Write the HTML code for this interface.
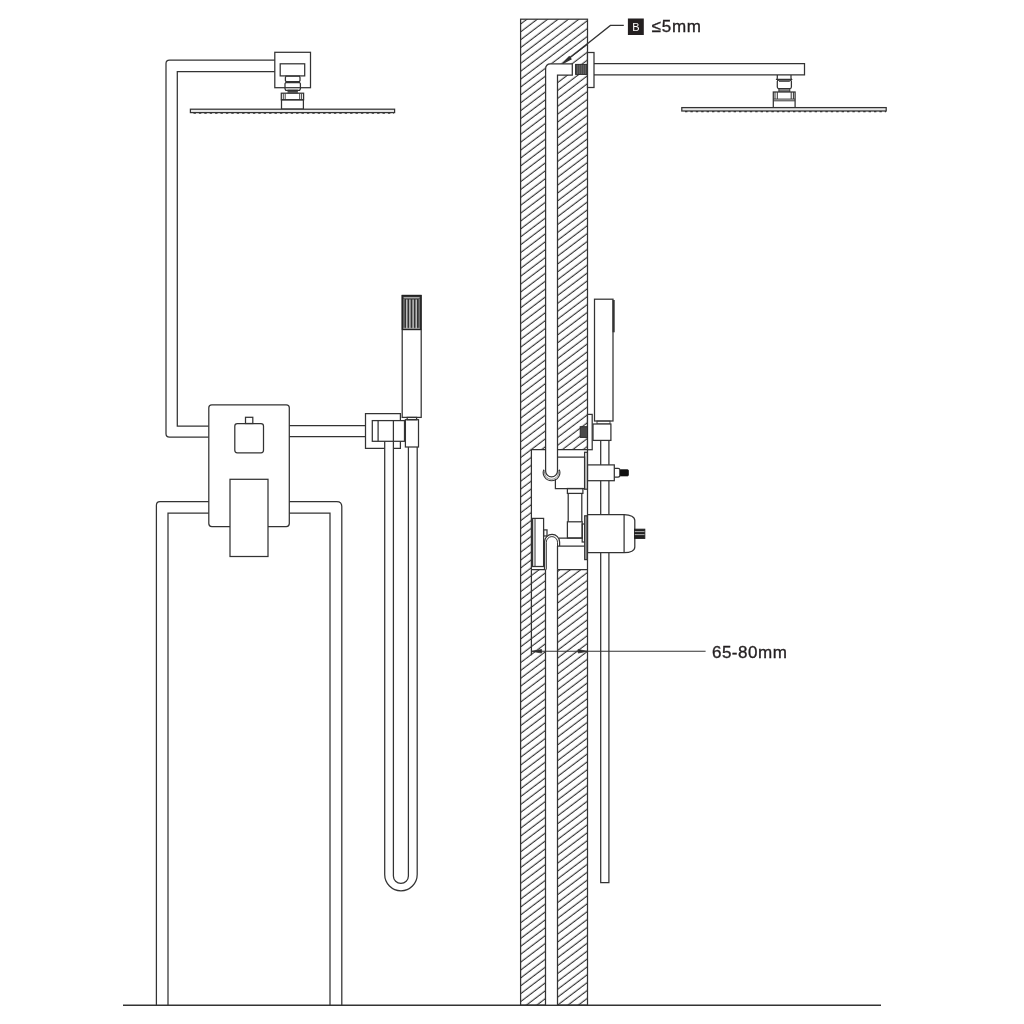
<!DOCTYPE html>
<html><head><meta charset="utf-8">
<style>
html,body{margin:0;padding:0;background:#fff;}
svg{display:block;will-change:transform;}
text{font-family:"Liberation Sans",sans-serif;}
</style></head>
<body>
<svg width="1024" height="1024" viewBox="0 0 1024 1024">
<defs>
<pattern id="hatch" patternUnits="userSpaceOnUse" width="20" height="6.28" patternTransform="translate(0,-2.47) rotate(-37.2)">
<line x1="-5" y1="3" x2="25" y2="3" stroke="#2b2b2b" stroke-width="1.1"/>
</pattern>
</defs>
<rect width="1024" height="1024" fill="#fff"/>
<g fill="none" stroke="#333" stroke-width="1.25" stroke-linejoin="miter">

<!-- ===== LEFT FIGURE ===== -->
<!-- upper pipe to ceiling head -->
<path d="M274.8 60 H169.5 Q166 60 166 63.5 V433.8 Q166 437.2 169.5 437.2 H208.8"/>
<path d="M274.8 71.5 H177.3 V426 H208.8"/>
<!-- ceiling connector -->
<rect x="274.8" y="52.3" width="35.7" height="35.4"/>
<rect x="280.2" y="63.8" width="24.5" height="12.1"/>
<path d="M286 76 h13.4 l0.6 1.5 v3 l-0.6 1 h-13.4 l-0.6 -1 v-3 z"/>
<path d="M285.8 82.5 h13.8 l0.8 1.2 v5.2 l-0.8 1.4 h-13.8 l-0.8 -1.4 v-5.2 z"/>
<path d="M287.5 90.2 h10.4 M287.5 91.6 h10.4 M287.5 92.8 h10.4" stroke-width="1"/>
<rect x="281.3" y="93.2" width="22.3" height="6.6"/>
<path d="M283.3 93.5 v6 M285.2 93.5 v6 M299.7 93.5 v6 M301.6 93.5 v6" stroke-width="0.9"/>
<rect x="281.5" y="99.8" width="21.9" height="9.3"/>
<!-- plate -->
<rect x="190.4" y="109.2" width="204.2" height="3.4" fill="#e8e8e8"/>
<path d="M193.5 113.2 H394" stroke-dasharray="2.4 3" stroke-width="1.3"/>

<!-- mixer body -->
<rect x="208.8" y="404.8" width="80.5" height="121.8" rx="3" fill="#fff"/>
<rect x="234.8" y="423.5" width="28.7" height="29.3" rx="2.5"/>
<rect x="245.5" y="417.3" width="7.3" height="6.2"/>
<rect x="230" y="479.3" width="38" height="77.2" fill="#fff"/>
<!-- right pipe to holder -->
<path d="M289.3 425.5 H365.5 M289.3 436.5 H365.5"/>
<!-- lower loop -->
<path d="M208.8 501.6 H160 Q156.4 501.6 156.4 505.2 V1005"/>
<path d="M208.8 513 H168 V1005"/>
<path d="M289.3 501.6 H336.8 Q341.8 501.6 341.8 506.6 V1005"/>
<path d="M289.3 513 H330 V1005"/>

<!-- hand shower front view -->
<rect x="402.2" y="295.5" width="19" height="121.9"/>
<path d="M402.2 329.6 H421.2"/>
<rect x="402.3" y="295.5" width="18.5" height="33.9" fill="#333" stroke="#222" stroke-width="1.2"/>
<path d="M403.6 297.8 H419.6" stroke="#cfcfcf" stroke-width="1.1"/>
<path d="M406.8 299.5 V328.3 M409.9 299.5 V328.3 M413.1 299.5 V328.3 M416.2 299.5 V328.3" stroke="#d4d4d4" stroke-width="1.3"/>
<path d="M404 299 V328.5 M419.2 299 V328.5" stroke="#808080" stroke-width="1.2"/>
<path d="M403.4 328.3 H419.8" stroke="#d0d0d0" stroke-width="0.7"/>
<!-- holder -->
<rect x="365.5" y="413.6" width="34.9" height="34.8" fill="#fff" stroke="none"/>
<path d="M384.7 448.4 H365.5 V413.6 H400.4 V448.4 H393.4"/>
<rect x="372.3" y="420.6" width="32.2" height="20.7" fill="#fff"/>
<path d="M378.1 420.6 V441.3 M393.4 420.6 V441.3"/>
<rect x="405.4" y="419.7" width="13.1" height="27.3" fill="#fff"/>
<rect x="407.2" y="417.4" width="9.4" height="2.3"/>
<!-- hose -->
<path d="M384.7 441.3 V874.5 A16.2 16.2 0 0 0 417.2 874.5 V447"/>
<path d="M393.4 441.3 V875.9 A7.5 7.5 0 0 0 408.4 875.9 V447"/>

<!-- floor -->
<path d="M123 1005.2 H881" stroke-width="1.5"/>

<!-- ===== RIGHT FIGURE (wall section) ===== -->
<rect x="520.6" y="19.2" width="66.9" height="986" fill="url(#hatch)" stroke="none"/>
<!-- channel & elbow (white) -->
<path d="M545.5 1005 V69 Q545.5 63.8 550.5 63.8 H572.3 V75 H557.5 V1005 Z" fill="#fff" stroke="none"/>
<rect x="572.3" y="64.2" width="3.5" height="10.4" fill="#fff" stroke="none"/>
<!-- cavity -->
<rect x="531.4" y="449.5" width="56.1" height="120.1" fill="#fff" stroke="none"/>
<!-- wall outline -->
<rect x="520.6" y="19.2" width="66.9" height="986"/>
<!-- elbow outline -->
<path d="M545.6 470.9 V69 Q545.6 63.8 550.6 63.8 H572.3 V75 H557.5 V470.9 A5.95 5.95 0 0 1 545.6 470.9"/>
<!-- dark thread at elbow -->
<rect x="575.6" y="64.4" width="11.6" height="10" fill="#4a4a4a" stroke="#2b2b2b" stroke-width="1"/>
<path d="M577.5 64.8 v9.2 M579.5 64.8 v9.2 M581.5 64.8 v9.2 M583.5 64.8 v9.2 M585.5 64.8 v9.2" stroke="#6a6a6a" stroke-width="0.7"/>
<!-- cavity outline -->
<path d="M545.5 449.5 H531.4 V655.3 M557.5 449.5 H587.5"/>
<path d="M531.4 569.6 H545.5 M557.5 569.6 H587.5"/>
<!-- upper pipe ring -->
<path d="M559.35 469.66 A8.3 8.3 0 1 1 543.75 469.66" stroke-width="1.1"/>
<path d="M558.3 470 A7.1 7.1 0 1 1 544.8 470" stroke-width="0.8" stroke="#666"/>
<!-- upper valve block -->
<path d="M557.5 457.2 H584.6 V488.5 H555.4 V479"/>
<rect x="584.6" y="452.3" width="2.8" height="36.9"/>
<rect x="567.4" y="488.5" width="15.5" height="4.9"/>
<path d="M568.2 493.4 V521.8 M581.8 493.4 V521.8"/>
<rect x="567.4" y="521.8" width="14.8" height="16.2"/>
<!-- lower block -->
<path d="M559 538 H582.9 M557.5 546.1 H584.5 M557.5 546.1 V569.6"/>
<rect x="582.2" y="524" width="2.5" height="18"/>
<rect x="584.7" y="515.8" width="2.4" height="43.8" fill="#bbb"/>
<!-- lower pipe inverted U -->
<path d="M544.5 569.6 V542 A7.55 7.55 0 0 1 559.6 542 V546.1"/>
<path d="M546.3 569.6 V542.2 A5.6 5.6 0 0 1 557.5 542.2 V546.1" stroke-width="1"/>
<path d="M545.5 569.6 V1005 M557.5 569.6 V1005"/>
<!-- left flange in cavity -->
<rect x="532.6" y="518.4" width="11" height="48.1"/>
<path d="M535 518.4 V566.5" stroke-width="1"/>
<rect x="543.6" y="529.9" width="3.4" height="6.1"/>

<!-- top flange + arm -->
<rect x="587.5" y="52.5" width="6.5" height="35" fill="#fff"/>
<path d="M594 63.6 H804.5 V74.9 H594"/>
<!-- connector under arm -->
<path d="M777.3 74.9 V78.2 l-0.6 1.2 H791.6 l-0.6 -1.2 V74.9"/>
<rect x="777.3" y="80" width="14.1" height="8.5" rx="1.5"/>
<path d="M779 81.4 H789.8" stroke-width="0.9"/>
<path d="M778.9 88.5 V92 M789.8 88.5 V92 M778.9 90 H789.8 M778.9 91.2 H789.8" stroke-width="1"/>
<rect x="773.3" y="92" width="21.8" height="15.6" fill="#fff"/>
<path d="M775 92 V99 M777.3 92 V99 M791.2 92 V99 M793.4 92 V99 M773.3 99.1 H795.1 M773.3 100.8 H795.1" stroke-width="1"/>
<!-- right plate -->
<rect x="681.8" y="107.6" width="204.4" height="3.4" fill="#e8e8e8"/>
<path d="M685 111.6 H886" stroke-dasharray="2.4 3" stroke-width="1.3"/>

<!-- leader + label -->
<path d="M566 60.8 L610.4 25.4 H623.8"/>
<path d="M562.8 63.4 L569.2 56.6 L571 59 Z" fill="#2b2b2b"/>
<rect x="627.9" y="18.5" width="15.9" height="16.5" fill="#231f20" stroke="none"/>
<text x="635.9" y="30.8" font-size="11" fill="#fff" stroke="none" text-anchor="middle">B</text>
<text x="651.6" y="32.3" font-size="17" fill="#231f20" stroke="#231f20" stroke-width="0.35" textLength="49.4" lengthAdjust="spacing">≤5mm</text>

<!-- hand shower side view -->
<rect x="594.5" y="299.2" width="18.5" height="121.8" fill="#fff"/>
<path d="M613.6 300 V332.3" stroke-width="2.2"/>
<rect x="597" y="421" width="13" height="3" stroke-width="0.9"/>
<rect x="593" y="424" width="17.9" height="16.4" fill="#fff"/>
<rect x="587.5" y="414.4" width="4.7" height="35.3" fill="#fff"/>
<rect x="580.2" y="426.7" width="7.3" height="10.7" fill="#4a4a4a" stroke="#2b2b2b" stroke-width="1"/>
<!-- hose -->
<path d="M600.7 440.4 V882.5 H608.9 V440.4"/>
<!-- upper stem -->
<rect x="587.6" y="464.9" width="26.7" height="15.8" fill="#fff"/>
<path d="M614.3 468.4 H618 Q620 468.4 620 470.5 V475 Q620 477.1 618 477.1 H614.3"/>
<rect x="620" y="469.7" width="8.4" height="6.2" rx="0.8" fill="#111" stroke="#111" stroke-width="0.8"/>
<!-- lower handle -->
<path d="M587.6 514.6 H624.1 C630.5 514.6 634.8 517 634.8 520.5 V547 C634.8 550.5 630.5 552.7 624.1 552.7 H587.6 Z" fill="#fff"/>
<path d="M624.1 514.6 V552.7"/>
<rect x="634.5" y="529.2" width="10.3" height="9.2" fill="#222" stroke="#222" stroke-width="1"/>
<path d="M634.8 531.6 H644.5 M634.8 534.6 H644.5" stroke="#bbb" stroke-width="0.9"/>

<!-- dimension -->
<path d="M531.7 651.3 H705.6" stroke-width="1.1"/>
<path d="M531.7 651.3 L541.6 649.6 V653 Z M587.3 651.3 L578.2 649.6 V653 Z" fill="#2b2b2b" stroke-width="0.8"/>
<text x="711.9" y="658.1" font-size="17" fill="#231f20" stroke="#231f20" stroke-width="0.35" textLength="75" lengthAdjust="spacing">65-80mm</text>
</g>
</svg>
</body></html>
